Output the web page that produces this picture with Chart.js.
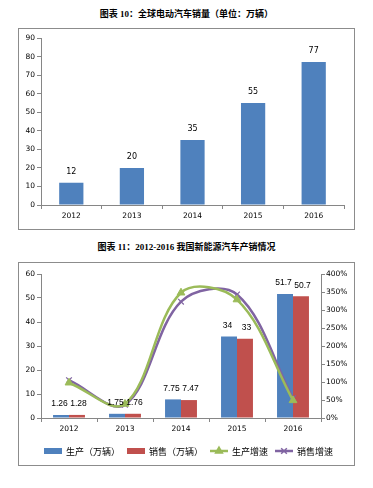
<!DOCTYPE html>
<html>
<head>
<meta charset="utf-8">
<script src="https://cdn.jsdelivr.net/npm/chart.js@4.4.1/dist/chart.umd.min.js"></script>
<style>
body { margin: 0; background: #fff; width: 373px; height: 488px; position: relative; overflow: hidden; }
.title { position: absolute; left: 0; width: 373px; text-align: center; font: bold 9px "Liberation Serif", "Noto Sans CJK SC"; color: #000; line-height: 13px; }
.frame { position: absolute; left: 18px; width: 335px; border: 1px solid #8c8c8c; }
canvas { display: block; }
</style>
</head>
<body>
<div class="title" style="top:8px">图表 10：全球电动汽车销量（单位：万辆）</div>
<div class="frame" style="top:28px;height:200px"><canvas id="c1" width="335" height="200"></canvas></div>
<div class="title" style="top:241px">图表 11：2012-2016 我国新能源汽车产销情况</div>
<div class="frame" style="top:262px;height:202px"><canvas id="c2" width="335" height="202"></canvas></div>
<script>
// 数据
const years = ['2012', '2013', '2014', '2015', '2016'];
const globalSales = [12, 20, 35, 55, 77];
const production = [1.26, 1.75, 7.75, 34, 51.7];
const sales = [1.28, 1.76, 7.47, 33, 50.7];
const productionGrowth = [98, 39, 348, 329, 49];   // %
const salesGrowth = [105, 37, 323, 343, 55];       // %

const AXIS = '#868686';
const TICK_FONT = { family: 'DejaVu Sans', size: 7.5 };

// 柱子上方的数值标签（并排的两组稍微往外错开一点）
const barLabels = {
  id: 'barLabels',
  afterDatasetsDraw(chart, args, opts) {
    const ctx = chart.ctx;
    ctx.save();
    ctx.font = opts.font;
    ctx.fillStyle = '#000';
    ctx.textAlign = 'center';
    ctx.textBaseline = 'middle';
    let k = 0;
    chart.data.datasets.forEach((ds, i) => {
      if (ds.type === 'line') return;
      const dx = (opts.spread || 0) * (k === 0 ? -1 : 1);
      k++;
      chart.getDatasetMeta(i).data.forEach((bar, j) => {
        ctx.fillText(String(ds.data[j]), bar.x + dx, bar.y - opts.offset);
      });
    });
    ctx.restore();
  }
};

// 图例：线+标记 的样式，手动画
const lineLegend = {
  id: 'lineLegend',
  afterDraw(chart, args, opts) {
    if (!opts.show) return;
    const ctx = chart.ctx;
    ctx.save();
    ctx.font = '9px "Noto Sans CJK SC"';
    ctx.textBaseline = 'middle';
    const items = chart.data.datasets;
    const symW = 18, gap = 4, itemGap = 7;
    let total = 0;
    items.forEach(d => { total += symW + gap + ctx.measureText(d.label).width; });
    total += itemGap * (items.length - 1);
    let x = (chart.width - total) / 2 + 2;
    const y = opts.y;
    items.forEach(d => {
      if (d.type === 'line') {
        ctx.strokeStyle = d.borderColor;
        ctx.lineWidth = 2.5;
        ctx.beginPath(); ctx.moveTo(x, y); ctx.lineTo(x + symW, y); ctx.stroke();
        ctx.fillStyle = d.borderColor;
        ctx.lineWidth = 1.5;
        Chart.helpers.drawPoint(ctx, { pointStyle: d.pointStyle, radius: 4, rotation: 0, borderWidth: 1.5 }, x + symW / 2, y);
      } else {
        ctx.fillStyle = d.backgroundColor;
        ctx.fillRect(x, y - 3, symW, 6);
      }
      x += symW + gap;
      ctx.fillStyle = '#000';
      ctx.fillText(d.label, x, y + 0.5);
      x += ctx.measureText(d.label).width + itemGap;
    });
    ctx.restore();
  }
};

function yAxis(min, max, step, width, fmt, pos) {
  return {
    position: pos || 'left',
    min: min, max: max,
    afterFit: s => { s.width = width; },
    border: { display: true, color: AXIS, width: 1 },
    grid: { drawOnChartArea: false, drawTicks: true, tickLength: 4, color: AXIS },
    ticks: { stepSize: step, color: '#000', font: TICK_FONT, padding: pos === 'right' ? 1 : 2, callback: fmt }
  };
}

new Chart(document.getElementById('c1'), {
  type: 'bar',
  data: {
    labels: years,
    datasets: [{ label: '全球电动汽车销量', data: globalSales, backgroundColor: '#4F81BD', categoryPercentage: 0.4, barPercentage: 1 }]
  },
  options: {
    responsive: false,
    animation: false,
    layout: { padding: { top: 9, right: 10, left: 0, bottom: 0 } },
    plugins: { legend: { display: false }, tooltip: { enabled: false }, barLabels: { font: '8px "DejaVu Sans"', offset: 11 }, lineLegend: { show: false } },
    scales: {
      x: {
        afterFit: s => { s.height = 24; },
        border: { display: true, color: AXIS },
        grid: { drawOnChartArea: false, drawTicks: true, tickLength: 4, color: AXIS, offset: true },
        ticks: { color: '#000', font: TICK_FONT, padding: 3 }
      },
      y: yAxis(0, 90, 10, 22, v => v)
    }
  },
  plugins: [barLabels, lineLegend]
});

new Chart(document.getElementById('c2'), {
  type: 'bar',
  data: {
    labels: years,
    datasets: [
      { label: '生产（万辆）', data: production, backgroundColor: '#4F81BD', yAxisID: 'y', order: 1, categoryPercentage: 0.57, barPercentage: 1 },
      { label: '销售（万辆）', data: sales, backgroundColor: '#C0504D', yAxisID: 'y', order: 1, categoryPercentage: 0.57, barPercentage: 1 },
      { type: 'line', label: '生产增速', data: productionGrowth, yAxisID: 'y1', order: 0,
        borderColor: '#9BBB59', backgroundColor: '#9BBB59', borderWidth: 2.5, tension: 0.35,
        pointStyle: 'triangle', pointRadius: 4.5, pointBorderWidth: 1 },
      { type: 'line', label: '销售增速', data: salesGrowth, yAxisID: 'y1', order: 0,
        borderColor: '#8064A2', backgroundColor: '#8064A2', borderWidth: 2.5, tension: 0.35,
        pointStyle: 'crossRot', pointRadius: 4, pointBorderWidth: 1.2 }
    ]
  },
  options: {
    responsive: false,
    animation: false,
    layout: { padding: { top: 11, right: 0, left: 0, bottom: 0 } },
    plugins: { legend: { display: false }, tooltip: { enabled: false }, barLabels: { font: '8.5px "Liberation Sans"', offset: 11, spread: 1.5 }, lineLegend: { show: true, y: 188 } },
    scales: {
      x: {
        afterFit: s => { s.height = 47; },
        border: { display: true, color: AXIS },
        grid: { drawOnChartArea: false, drawTicks: true, tickLength: 4, color: AXIS, offset: true },
        ticks: { color: '#000', font: TICK_FONT, padding: 3 }
      },
      y: yAxis(0, 60, 10, 22, v => v),
      y1: yAxis(0, 400, 50, 33, v => v + '%', 'right')
    }
  },
  plugins: [barLabels, lineLegend]
});
</script>
</body>
</html>
